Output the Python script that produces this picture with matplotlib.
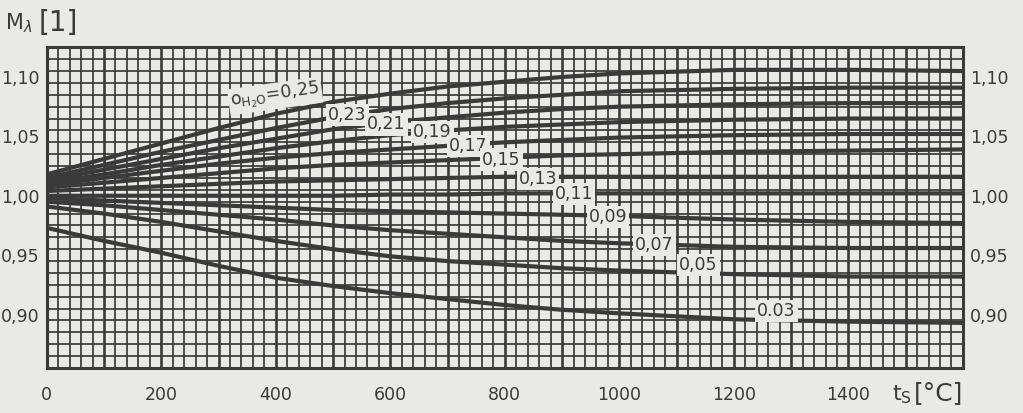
import numpy as np
import matplotlib
matplotlib.use("Agg")
import matplotlib.pyplot as plt
from matplotlib import font_manager

names = {f.name for f in font_manager.fontManager.ttflist}
FONT = 'Liberation Sans Narrow' if 'Liberation Sans Narrow' in names else 'DejaVu Sans'
plt.rcParams['font.family'] = [FONT, 'DejaVu Sans']
plt.rcParams['mathtext.fontset'] = 'dejavusans'

# ---- data ----
x_vals = [0, 100, 200, 300, 400, 500, 600, 700, 800, 900, 1000, 1200, 1400, 1600]
curve_labels = ['0,25', '0,23', '0,21', '0,19', '0,17', '0,15', '0,13', '0,11',
                '0,09', '0,07', '0,05', '0.03']
m_025 = [1.018, 1.031, 1.044, 1.057, 1.069, 1.079, 1.086, 1.092, 1.096, 1.100, 1.103, 1.106, 1.106, 1.105]
m_023 = [1.015, 1.026, 1.037, 1.047, 1.057, 1.066, 1.073, 1.078, 1.082, 1.085, 1.088, 1.090, 1.091, 1.091]
m_021 = [1.013, 1.022, 1.031, 1.040, 1.048, 1.056, 1.062, 1.066, 1.070, 1.073, 1.075, 1.077, 1.078, 1.078]
m_019 = [1.011, 1.018, 1.026, 1.033, 1.040, 1.046, 1.051, 1.055, 1.058, 1.060, 1.062, 1.064, 1.065, 1.065]
m_017 = [1.009, 1.015, 1.021, 1.027, 1.032, 1.036, 1.039, 1.042, 1.045, 1.047, 1.049, 1.051, 1.052, 1.052]
m_015 = [1.007, 1.011, 1.015, 1.019, 1.023, 1.026, 1.028, 1.030, 1.032, 1.034, 1.035, 1.037, 1.038, 1.039]
m_013 = [1.004, 1.006, 1.008, 1.010, 1.012, 1.013, 1.014, 1.015, 1.016, 1.016, 1.016, 1.016, 1.016, 1.016]
m_011 = [1.000, 1.000, 1.000, 1.000, 1.000, 1.000, 1.001, 1.001, 1.002, 1.002, 1.002, 1.002, 1.002, 1.002]
m_009 = [0.998, 0.996, 0.994, 0.992, 0.990, 0.988, 0.987, 0.986, 0.985, 0.984, 0.983, 0.980, 0.978, 0.977]
m_007 = [0.995, 0.992, 0.988, 0.984, 0.980, 0.975, 0.971, 0.968, 0.965, 0.962, 0.960, 0.957, 0.956, 0.956]
m_005 = [0.991, 0.985, 0.978, 0.970, 0.962, 0.955, 0.949, 0.945, 0.942, 0.939, 0.937, 0.934, 0.932, 0.932]
m_003 = [0.973, 0.962, 0.952, 0.941, 0.931, 0.924, 0.918, 0.913, 0.908, 0.904, 0.901, 0.896, 0.894, 0.893]
series = [m_025, m_023, m_021, m_019, m_017, m_015, m_013, m_011, m_009, m_007, m_005, m_003]

# label anchor positions (data coords)
label_x = [399, 525, 593, 673, 736, 794, 858, 921, 980, 1061, 1138, 1274]
label_y = [1.084, 1.068, 1.060, 1.054, 1.042, 1.0305, 1.0144, 1.0017, 0.982, 0.9585, 0.942, 0.903]

x_ticks = [0, 200, 400, 600, 800, 1000, 1200, 1400]
x_ticklabels = ['0', '200', '400', '600', '800', '1000', '1200', '1400']
y_ticks = [0.90, 0.95, 1.00, 1.05, 1.10]
y_ticklabels = ['0,90', '0,95', '1,00', '1,05', '1,10']

INK = '#3a3a3a'
PAPER = '#e9e9e7'

fig = plt.figure(figsize=(10.23, 4.13), dpi=100, facecolor=PAPER)
ax = fig.add_axes([0.0457, 0.109, 0.8956, 0.7765])
ax.set_facecolor(PAPER)
ax.set_xlim(0, 1600)
ax.set_ylim(0.855, 1.125)

# grid
for gx in np.arange(20, 1600, 20):
    ax.axvline(gx, color=INK, lw=1.9 if gx % 100 == 0 else 1.25, zorder=1)
for gy in np.arange(0.865, 1.12, 0.01):
    ax.axhline(gy, color=INK, lw=1.25, zorder=1)

for ys in series:
    ax.plot(x_vals, ys, color=INK, lw=3.0, solid_capstyle='butt', solid_joinstyle='round', zorder=2)

fs = 12.5
for i, (lab, lx, ly) in enumerate(zip(curve_labels, label_x, label_y)):
    if i == 0:
        txt = r'$\mathrm{o}_{\mathrm{H_2O}}$' + '=' + lab
        ax.text(lx, ly, txt, fontsize=fs, color=INK, ha='center', va='center', rotation=8,
                zorder=4, bbox=dict(boxstyle='square,pad=0.12', fc=PAPER, ec='none'))
    else:
        ax.text(lx, ly, lab, fontsize=fs, color=INK, ha='center', va='center', zorder=4,
                bbox=dict(boxstyle='square,pad=0.12', fc=PAPER, ec='none'))

for s in ax.spines.values():
    s.set_color(INK)
    s.set_linewidth(2.2)
    s.set_zorder(5)

ax.set_xticks(x_ticks)
ax.set_xticklabels(x_ticklabels)
ax.set_yticks(y_ticks)
ax.set_yticklabels(y_ticklabels)
ax.tick_params(axis='both', length=0, labelsize=12.5, labelcolor=INK)
ax.tick_params(axis='x', pad=13)
ax.tick_params(axis='y', pad=5, labelright=True)
ax.tick_params(axis='y', which='major', right=False)
for t in ax.get_yticklabels():
    pass

fig.text(0.005, 0.945, r'M$_\lambda$', fontsize=15, color=INK, ha='left', va='center')
fig.text(0.038, 0.945, '[1]', fontsize=20, color=INK, ha='left', va='center')
fig.text(0.872, 0.045, r't$_\mathrm{S}$', fontsize=16, color=INK, ha='left', va='center')
fig.text(0.893, 0.048, '[°C]', fontsize=18, color=INK, ha='left', va='center')

fig.savefig('out.png', dpi=100, facecolor=PAPER)
